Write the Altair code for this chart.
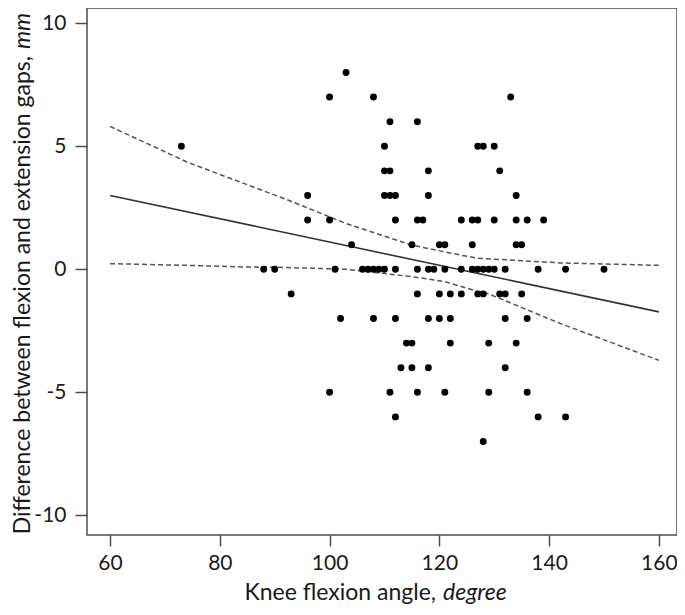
import altair as alt
import pandas as pd

# ---- data ----
ys = [8, 7, 6, 5, 4, 3, 2, 1, 0, -1, -2, -3, -4, -5, -6, -7]
xs_by_row = [
    [103],
    [100, 108, 133],
    [111, 116],
    [73, 110, 127, 128, 130],
    [110, 111, 118, 131],
    [96, 110, 111, 112, 118, 134],
    [96, 100, 112, 116, 117, 124, 126, 127, 130, 134, 136, 139],
    [104, 115, 120, 121, 126, 134, 135],
    [88, 90, 101, 106, 107, 108, 109, 110, 112, 116, 118, 119, 121, 124,
     126, 127, 128, 129, 130, 132, 138, 143, 150],
    [93, 116, 120, 122, 124, 127, 128, 131, 132, 135],
    [102, 108, 112, 118, 120, 122, 132, 136],
    [114, 115, 122, 129, 134],
    [113, 115, 118, 132],
    [100, 111, 116, 121, 129, 136],
    [112, 138, 143],
    [128],
]

fit_x = [60, 160]
fit_y = [3.0, -1.73]

upper_x = [60, 74, 92, 103, 115, 124, 127, 142, 160]
upper_y = [5.81, 4.36, 2.85, 1.86, 0.98, 0.57, 0.45, 0.26, 0.16]

lower_x = [60, 74, 85, 91, 103, 115, 121, 127, 129, 142, 160]
lower_y = [0.23, 0.16, 0.09, 0.08, 0.0, -0.3, -0.5, -0.9, -1.0, -2.2, -3.7]

x_ticks = [60, 80, 100, 120, 140, 160]
y_ticks = [-10, -5, 0, 5, 10]

x_title_regular = "Knee flexion angle,"
x_title_italic = "degree"
y_title_regular = "Difference between flexion and extension gaps,"
y_title_italic = "mm"

# ---- build tables ----
pts = pd.DataFrame(
    [(x, y) for y, row in zip(ys, xs_by_row) for x in row], columns=["x", "y"]
)
fit = pd.DataFrame({"x": fit_x, "y": fit_y})
upper = pd.DataFrame({"x": upper_x, "y": upper_y})
lower = pd.DataFrame({"x": lower_x, "y": lower_y})

FONT = "Lato"
TFS = 23
W, H = 590, 527

xscale = alt.Scale(domain=[55.8, 163.3], nice=False, zero=False)
yscale = alt.Scale(domain=[-10.8, 10.62], nice=False, zero=False)

xenc = alt.X(
    "x:Q",
    scale=xscale,
    axis=alt.Axis(values=x_ticks, title=None, tickSize=11, labelPadding=6,
                  labelExpr="toString(datum.value)"),
)
yenc = alt.Y(
    "y:Q",
    scale=yscale,
    axis=alt.Axis(values=y_ticks, title=None, tickSize=12, labelPadding=9,
                  labelExpr="toString(datum.value)"),
)

points = alt.Chart(pts).mark_circle(size=48, color="black", opacity=1).encode(
    x=xenc, y=yenc
)

fit_line = alt.Chart(fit).mark_line(color="#333333", strokeWidth=1.6).encode(
    x=alt.X("x:Q", scale=xscale), y=alt.Y("y:Q", scale=yscale)
)
upper_line = alt.Chart(upper).mark_line(
    color="#555555", strokeWidth=1.5, strokeDash=[5, 3]
).encode(x=alt.X("x:Q", scale=xscale), y=alt.Y("y:Q", scale=yscale))
lower_line = alt.Chart(lower).mark_line(
    color="#555555", strokeWidth=1.5, strokeDash=[5, 3]
).encode(x=alt.X("x:Q", scale=xscale), y=alt.Y("y:Q", scale=yscale))

# titles (mixed regular / italic)
xt_reg = alt.Chart(pd.DataFrame({"t": [x_title_regular]})).mark_text(
    font=FONT, fontSize=TFS, align="right", baseline="middle", color="#1a1a1a"
).encode(x=alt.value(349), y=alt.value(585), text="t:N")
xt_it = alt.Chart(pd.DataFrame({"t": [x_title_italic]})).mark_text(
    font=FONT, fontSize=TFS, fontStyle="italic", align="left", baseline="middle",
    color="#1a1a1a"
).encode(x=alt.value(356), y=alt.value(585), text="t:N")

yt_reg = alt.Chart(pd.DataFrame({"t": [y_title_regular]})).mark_text(
    font=FONT, fontSize=TFS, angle=270, align="right", baseline="middle",
    color="#1a1a1a"
).encode(x=alt.value(-64), y=alt.value(48), text="t:N")
yt_it = alt.Chart(pd.DataFrame({"t": [y_title_italic]})).mark_text(
    font=FONT, fontSize=TFS, fontStyle="italic", angle=270, align="left",
    baseline="middle", color="#1a1a1a"
).encode(x=alt.value(-64), y=alt.value(41), text="t:N")

chart = (
    alt.layer(upper_line, lower_line, fit_line, points, xt_reg, xt_it, yt_reg, yt_it)
    .properties(
        width=W,
        height=H,
        autosize=alt.AutoSizeParams(type="none"),
        padding={"left": 79, "top": 0, "right": 0, "bottom": 72},
    )
    .configure_view(stroke="#4d4d4d", strokeWidth=1.5)
    .configure_axis(
        grid=False,
        domain=False,
        tickColor="#4d4d4d",
        tickWidth=1.5,
        labelFont=FONT,
        labelFontSize=21,
        labelColor="#1a1a1a",
    )
)

chart.save("out.html", embed_options={"renderer": "svg", "actions": False})
